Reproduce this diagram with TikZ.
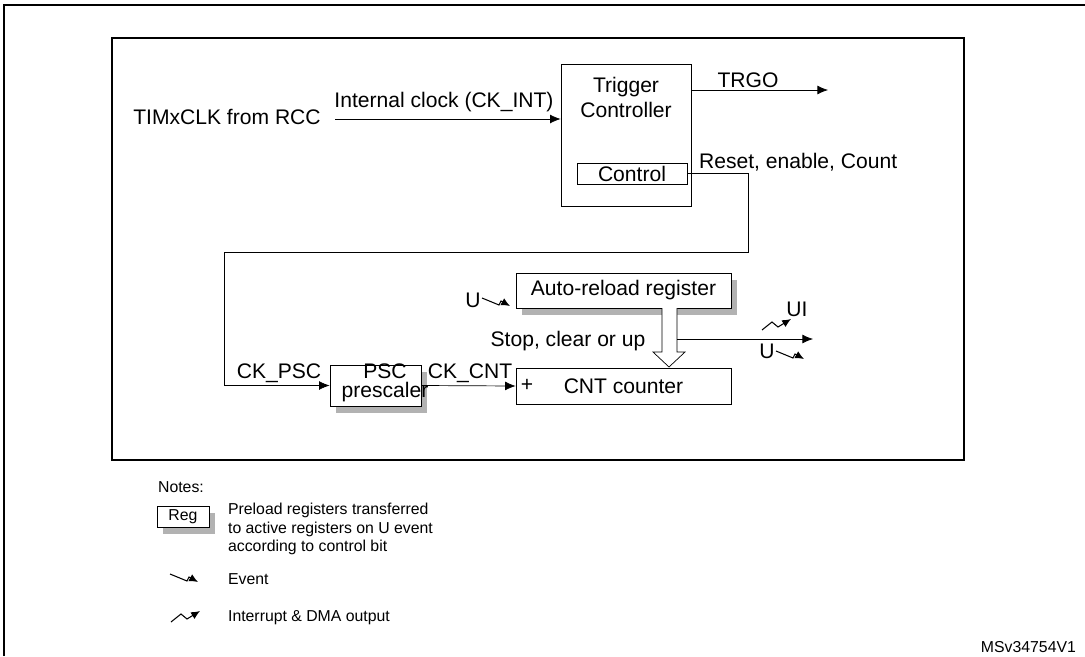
\documentclass[tikz,border=0pt]{standalone}
\usepackage{fontspec}
\setmainfont{Liberation Sans}
\usetikzlibrary{arrows,arrows.meta,shadows}
\tikzset{>={Latex[length=6pt,width=5pt]},x=0.02cm,y=-0.02cm,line width=0.8pt,
  every node/.style={font=\fontsize{12}{14}\selectfont,inner sep=1pt},
  blk/.style={draw,rectangle,inner sep=0pt},
  shd/.style={blk,fill=white,drop shadow={shadow xshift=0.12cm,shadow yshift=-0.13cm,fill=black!30,opacity=1}},
  sym/.style={-{Latex[length=5pt,width=4.5pt]},line width=0.6pt},
  note/.style={font=\fontsize{9}{10.4}\selectfont,align=left,anchor=west}}
\newcommand{\evsym}[1]{\draw[sym] #1 -- ++(17,7) -- ++(2,-4) -- ++(9,5);}
\newcommand{\itsym}[1]{\draw[sym] #1 -- ++(10,-8) -- ++(6,5) -- ++(13,-8);}

\begin{document}
\begin{tikzpicture}
    \useasboundingbox (0,0) rectangle (1085,656);
    % frames
    \draw[line width=1.2pt] (4,656) -- (4,5) -- (1085,5);
    \draw[line width=1.6pt] (112,38) rectangle (964,460);
    % trigger controller
    \node[blk,minimum width=2.6cm,minimum height=2.84cm] (trig) at (626,135) {};
    \node[align=center] (trigtxt) at (626,97.5) {Trigger\\Controller};
    \node[blk,minimum width=2.2cm,minimum height=0.42cm] (ctrl) at (632,173.5) {Control};
    \node (rcc) at (227,117) {TIMxCLK from RCC};
    \node (ckint) at (444,102) {Internal clock (CK\_INT)};
    \coordinate (clkin) at (335,119);
    \draw[->] (clkin) -- (clkin -| trig.west);
    \node (trgotxt) at (748,80) {TRGO};
    \coordinate (trgo) at (828,90);
    \draw[->] (trgo -| trig.east) -- (trgo);
    \node[anchor=west] (rst) at (697,162) {Reset, enable, Count};
    % counter part
    \node[shd,minimum width=1.82cm,minimum height=0.82cm] (psc) at (375.5,385.5) {};
    \node[align=center,font=\fontsize{12}{11}\selectfont] (psctxt) at (385,383) {PSC\\prescaler};
    \node[shd,minimum width=4.3cm,minimum height=0.7cm] (arl) at (623.5,290.5) {Auto-reload register};
    \node[blk,minimum width=4.3cm,minimum height=0.72cm] (cnt) at (623.5,386) {CNT counter};
    \node (plus) at (527,385) {+};
    \node (ckpsc) at (279,373) {CK\_PSC};
    \node (ckcnt) at (470,373) {CK\_CNT};
    \node (stop) at (568,341) {Stop, clear or up};
    \coordinate (rt) at (748,252);
    \coordinate (lp) at (224,252);
    \draw[->] (ctrl.east) -| (rt) -- (lp) |- (psc.west);
    \draw[->] (psc.east) -- (cnt.west);
    \draw[fill=white] (662,308) -- (662,352) -- (653,352) -- (669,367) -- (685,352) -- (677,352) -- (677,308);
    \coordinate (outst) at (677,339);
    \coordinate (outend) at (813,339);
    \draw[->] (outst) -- (outend);
    \node (u1) at (473,300) {U};
    \evsym{(482,298)}
    \node (ui) at (797,309) {UI};
    \itsym{(762,330)}
    \node (u2) at (767,351) {U};
    \evsym{(776,351)}
    % notes
    \node[note] (notes) at (156,487) {Notes:};
    \node[shd,minimum width=1.04cm,minimum height=0.42cm,font=\fontsize{9}{10}\selectfont] (reg) at (183,516.5) {Reg};
    \node[note] (pre) at (226,529) {Preload registers transferred\\to active registers on U event\\according to control bit};
    \evsym{(170,574)}
    \node[note] (evt) at (226,579) {Event};
    \itsym{(171,622)}
    \node[note] (irq) at (226,618) {Interrupt \& DMA output};
    \node[note,anchor=east] (ms) at (1078,647) {MSv34754V1};
\end{tikzpicture}
\end{document}
